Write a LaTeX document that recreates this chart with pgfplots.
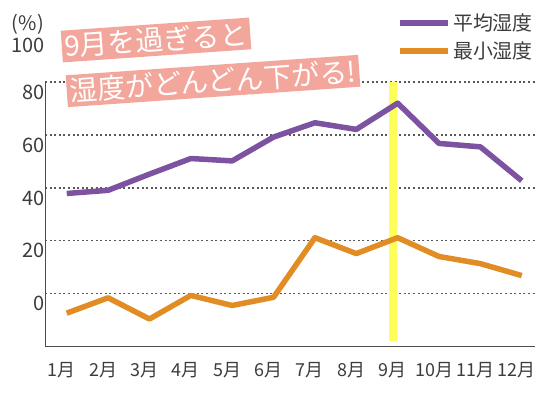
\documentclass[border=0pt]{standalone}
\usepackage{fontspec}
\setmainfont{Noto Sans CJK JP}
\usepackage{pgfplots}
\pgfplotsset{compat=1.18}
\definecolor{mypurple}{RGB}{125,82,160}
\definecolor{myorange}{RGB}{226,140,36}
\definecolor{myyellow}{RGB}{255,255,90}
\definecolor{mypink}{RGB}{243,166,155}
\definecolor{txt}{RGB}{60,60,60}
\begin{document}
\begin{tikzpicture}
\useasboundingbox (0,0) rectangle (551bp,394bp);
\begin{axis}[
  at={(45bp,48bp)}, anchor=south west,
  scale only axis, width=490bp, height=264bp,
  xmin=0.475, xmax=12.32, ymin=-19.7, ymax=80,
  axis lines=left,
  axis line style={draw=black!70, line width=1bp, -},
  ytick={0,20,40,60,80},
  yticklabels={0,20,40,60,80},
  xtick={1,...,12},
  xticklabels={1月,2月,3月,4月,5月,6月,7月,8月,9月,10月,11月,12月},
  major tick length=0pt,
  ymajorgrids,
  grid style={black!65, line width=1.2bp, dash pattern=on 2bp off 2.6bp},
  yticklabel style={anchor=east, inner sep=0pt, xshift=-0.5bp, yshift=-10bp,
    font=\fontsize{20}{20}\selectfont, text=txt},
  xticklabel style={anchor=center, yshift=-24bp, xshift=-5bp,
    font=\fontsize{18}{18}\selectfont, text=txt},
  legend style={at={(axis description cs:1,1.265)}, anchor=north east,
    draw=none, fill=none, font=\fontsize{20}{20}\selectfont, text=txt,
    row sep=5bp, inner sep=0pt,
    /tikz/every even column/.append style={column sep=10bp}},
  legend cell align=left,
  legend image code/.code={\draw[#1, line width=6bp] (0bp,0bp) -- (48bp,0bp);},
  clip=false,
]
\addplot[myyellow, line width=8bp, forget plot] coordinates {(8.88,-17.7) (8.88,80)};
\addplot[mypurple, line width=5.5bp, line join=round] coordinates {
 (1,37.9) (2,39.1) (3,45.2) (4,51.1) (5,50.2) (6,59.2)
 (7,64.6) (8,62.1) (9,72.0) (10,56.8) (11,55.5) (12,42.7)};
\addlegendentry{平均湿度}
\addplot[myorange, line width=5.5bp, line join=round] coordinates {
 (1,-7.3) (2,-1.5) (3,-9.5) (4,-0.6) (5,-4.4) (6,-1.3)
 (7,21.2) (8,15.2) (9,21.2) (10,14.1) (11,11.4) (12,6.9)};
\addlegendentry{最小湿度}
\end{axis}
\node[anchor=east, inner sep=0pt, text=txt, font=\fontsize{20}{20}\selectfont] at (45bp,349bp) {100};
\node[anchor=east, inner sep=0pt, text=txt, font=\fontsize{20}{20}\selectfont] at (44bp,370bp) {(\%)};
\node[fill=mypink, rotate=4, text=white, inner xsep=3bp, inner ysep=3bp,
  font=\fontsize{28}{28}\selectfont] at (156bp,354bp) {9月を過ぎると};
\node[fill=mypink, rotate=4, text=white, inner xsep=3bp, inner ysep=3bp,
  font=\fontsize{28}{28}\selectfont] at (213bp,313bp) {湿度がどんどん下がる!};
\end{tikzpicture}
\end{document}
